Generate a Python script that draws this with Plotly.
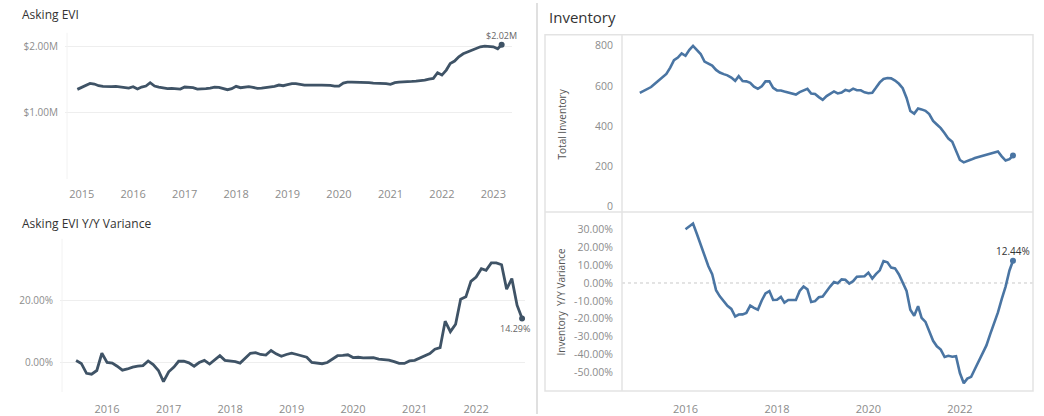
import plotly.graph_objects as go
import pandas as pd
from datetime import datetime

W, H = 1044, 416

# ---------------- data ----------------
evi_start = "2014-12-01"   # Asking EVI, $M, monthly
evi_m = [1.35, 1.38, 1.42, 1.44, 1.43, 1.405, 1.395, 1.39, 1.39, 1.395,
         1.39, 1.385, 1.37, 1.39, 1.355, 1.385, 1.40, 1.45, 1.40, 1.385,
         1.37, 1.36, 1.365, 1.365, 1.355, 1.385, 1.385, 1.375, 1.355, 1.355,
         1.36, 1.37, 1.385, 1.38, 1.365, 1.345, 1.36, 1.395, 1.375, 1.385,
         1.39, 1.38, 1.365, 1.37, 1.375, 1.385, 1.395, 1.415, 1.405, 1.42,
         1.435, 1.435, 1.42, 1.415, 1.415, 1.42, 1.415, 1.415, 1.415, 1.41,
         1.40, 1.40, 1.445, 1.46, 1.46, 1.46, 1.455, 1.45, 1.45, 1.445,
         1.445, 1.44, 1.435, 1.425, 1.45, 1.46, 1.46, 1.465, 1.47, 1.475,
         1.48, 1.49, 1.505, 1.515, 1.60, 1.565, 1.64, 1.74, 1.775, 1.84,
         1.885, 1.91, 1.935, 1.96, 1.99, 2.00, 2.00, 1.99, 1.96, 2.02]

evi_yoy_start = "2015-07-01"   # Asking EVI Y/Y variance, %
evi_yoy = [0.65, -0.3, -3.5, -3.8, -2.6, 3.0, 0.0, -0.2, -1.2, -2.5,
           -2.1, -1.5, -1.2, -1.0, 0.5, -0.7, -2.6, -6.2, -3.0, -1.5,
           0.4, 0.4, -0.1, -1.2, 0.0, 0.7, -0.5, 0.8, 2.2, 0.7,
           0.5, 0.3, -0.2, 1.3, 3.0, 3.2, 2.6, 2.4, 3.9, 2.8,
           2.0, 2.6, 3.0, 2.6, 2.2, 1.7, 0.0, -0.2, -0.4, 0.0,
           1.0, 2.2, 2.3, 2.5, 1.6, 1.7, 1.5, 1.6, 1.6, 1.1,
           0.9, 0.8, 0.3, -0.3, -0.3, 0.5, 0.7, 1.5, 2.3, 2.9,
           4.3, 4.8, 13.4, 10.0, 12.4, 20.5, 21.3, 26.3, 27.7, 30.4,
           29.9, 32.3, 32.3, 31.7, 23.8, 27.2, 18.6, 14.29]

inv_start = "2015-01-01"   # Total inventory
inventory = [565, 576, 584, 594, 610, 628, 644, 659, 690, 727,
             740, 761, 749, 779, 798, 780, 758, 720, 710, 700,
             679, 666, 658, 652, 641, 625, 648, 624, 622, 615,
             596, 585, 598, 622, 622, 590, 577, 577, 572, 567,
             565, 557, 569, 578, 585, 562, 559, 544, 530, 549,
             562, 572, 562, 567, 580, 574, 586, 578, 578, 568,
             563, 566, 590, 617, 634, 639, 637, 626, 610, 588,
             540, 475, 462, 488, 483, 476, 460, 426, 408, 390,
             365, 338, 322, 280, 232, 220, 225, 234, 242, 248,
             253, 258, 265, 271, 274, 250, 229, 236, 254]

inv_yoy_start = "2016-01-01"   # Inventory Y/Y variance, %
inv_yoy = [30.1, 32.0, 33.3, 27.5, 21.5, 15.0, 9.5, 5.0, -4.0, -7.5,
           -9.9, -12.8, -14.5, -18.8, -17.7, -17.6, -16.8, -12.7, -14.0, -15.0,
           -9.8, -5.8, -4.5, -9.5, -9.4, -7.8, -11.0, -9.5, -9.5, -9.5,
           -4.5, -2.0, -3.6, -10.7, -10.2, -8.0, -7.6, -4.5, -2.0, 0.5,
           -0.2, 2.0, 1.8, -0.3, 1.0, 3.5, 3.7, 3.8, 5.8, 2.5,
           5.0, 7.1, 12.3, 11.6, 8.6, 8.2, 4.8, 0.0, -4.5, -15.0,
           -18.4, -13.0, -19.5, -21.8, -27.5, -32.4, -35.5, -37.3, -41.5, -40.8,
           -41.3, -41.0, -50.5, -56.2, -53.6, -52.6, -48.2, -43.5, -39.5, -35.0,
           -28.5, -23.0, -16.5, -9.0, -2.0, 7.0, 12.44]

evi_years = [2015, 2016, 2017, 2018, 2019, 2020, 2021, 2022, 2023]
evi_yoy_years = [2016, 2017, 2018, 2019, 2020, 2021, 2022]
inv_years = [2016, 2018, 2020, 2022]
inv_ticks = [0, 200, 400, 600, 800]
inv_yoy_ticks = [30, 20, 10, 0, -10, -20, -30, -40, -50]

# ---------------- helpers ----------------
def months(start, n):
    return pd.date_range(start, periods=n, freq="MS")

def fy(y):
    yr = int(y)
    a, b = datetime(yr, 1, 1), datetime(yr + 1, 1, 1)
    return (a + (b - a) * (y - yr)).strftime("%Y-%m-%d %H:%M")

def dxp(a, b):
    return [a / W, b / W]

def dyp(top, bottom):
    return [1 - bottom / H, 1 - top / H]

FONT = "Open Sans"
TICKC = "#8c8c8c"
LEFTC = "#3f5366"
RIGHTC = "#4a75a3"
CLEAR = "rgba(0,0,0,0)"

x_evi = months(evi_start, len(evi_m))
x_evi_yoy = months(evi_yoy_start, len(evi_yoy))
x_inv = months(inv_start, len(inventory))
x_inv_yoy = months(inv_yoy_start, len(inv_yoy))
evi_vals = [v * 1e6 for v in evi_m]

fig = go.Figure()

def add_line(x, y, ax, color, width):
    fig.add_trace(go.Scatter(x=x, y=y, mode="lines", xaxis="x" + ax, yaxis="y" + ax,
                             line=dict(color=color, width=width), showlegend=False,
                             hoverinfo="skip"))
    fig.add_trace(go.Scatter(x=[x[-1]], y=[y[-1]], mode="markers", xaxis="x" + ax,
                             yaxis="y" + ax, marker=dict(color=color, size=6),
                             showlegend=False, hoverinfo="skip"))

add_line(x_evi, evi_vals, "", LEFTC, 2.8)
add_line(x_evi_yoy, evi_yoy, "2", LEFTC, 2.8)
add_line(x_inv, inventory, "3", RIGHTC, 2.6)
add_line(x_inv_yoy, inv_yoy, "4", RIGHTC, 2.6)

tickfont = dict(family=FONT, size=10, color=TICKC)
yearfont = dict(family=FONT, size=11, color=TICKC)

fig.update_layout(
    width=W, height=H, margin=dict(l=0, r=0, t=0, b=0),
    paper_bgcolor="white", plot_bgcolor="white",
    font=dict(family=FONT),
    xaxis=dict(domain=dxp(65, 512), type="date",
               range=[fy(2014.675), fy(2023.363)],
               tickvals=[datetime(y, 1, 1) for y in evi_years],
               ticktext=[str(y) for y in evi_years], tickfont=yearfont,
               showgrid=False, zeroline=False, showline=False,
               ticks="outside", ticklen=5, tickcolor=CLEAR, anchor="y"),
    yaxis=dict(domain=dyp(33, 180), range=[0, 2.2e6],
               tickvals=[1e6, 2e6], ticktext=["$1.00M", "$2.00M"], tickfont=tickfont,
               showgrid=True, gridcolor="#eeeeee", gridwidth=1, zeroline=False,
               showline=False, ticks="outside", ticklen=4, tickcolor=CLEAR,
               anchor="x"),
    xaxis2=dict(domain=dxp(60, 525), type="date",
                range=[fy(2015.234), fy(2022.795)],
                tickvals=[datetime(y, 1, 1) for y in evi_yoy_years],
                ticktext=[str(y) for y in evi_yoy_years], tickfont=yearfont,
                showgrid=False, zeroline=False, showline=False,
                ticks="outside", ticklen=7, tickcolor=CLEAR, anchor="y2"),
    yaxis2=dict(domain=dyp(240, 394), range=[-9.6, 40.1],
                tickvals=[0, 20], ticktext=["0.00%", "20.00%"], tickfont=tickfont,
                showgrid=True, gridcolor="#eeeeee", zeroline=False, showline=False,
                ticks="outside", ticklen=4, tickcolor=CLEAR, anchor="x2"),
    xaxis3=dict(domain=dxp(622, 1033), type="date",
                range=[fy(2014.61), fy(2023.60)], showticklabels=False,
                showgrid=False, zeroline=False, showline=False, ticks="",
                anchor="y3"),
    yaxis3=dict(domain=dyp(35, 213), range=[-26, 853],
                tickvals=inv_ticks, ticktext=[str(v) for v in inv_ticks],
                tickfont=dict(family=FONT, size=10.5, color=TICKC),
                showgrid=False, zeroline=False, showline=False,
                ticks="outside", ticklen=6, tickcolor=CLEAR, anchor="x3"),
    xaxis4=dict(domain=dxp(622, 1033), type="date",
                range=[fy(2014.61), fy(2023.60)],
                tickvals=[datetime(y, 1, 1) for y in inv_years],
                ticktext=[str(y) for y in inv_years], tickfont=yearfont,
                showgrid=False, zeroline=False, showline=False,
                ticks="outside", ticklen=8, tickcolor=CLEAR, anchor="y4"),
    yaxis4=dict(domain=dyp(213, 393), range=[-60.6, 39.8],
                tickvals=inv_yoy_ticks, ticktext=[f"{v:.2f}%" for v in inv_yoy_ticks],
                tickfont=dict(family=FONT, size=10.5, color=TICKC),
                showgrid=False, zeroline=False, showline=False,
                ticks="outside", ticklen=6, tickcolor=CLEAR, anchor="x4"),
)

shapes = [
    # separator between halves
    dict(type="line", xref="paper", yref="paper", x0=537 / W, x1=537 / W,
         y0=0, y1=1 - 3 / H, line=dict(color="#d6d6d6", width=1.5)),
    # faint left-panel axis lines
    dict(type="line", xref="paper", yref="paper", x0=67 / W, x1=67 / W,
         y0=1 - 180 / H, y1=1 - 33 / H, line=dict(color="#f2f2f2", width=1)),
    dict(type="line", xref="paper", yref="paper", x0=62 / W, x1=62 / W,
         y0=1 - 394 / H, y1=1 - 240 / H, line=dict(color="#f2f2f2", width=1)),
    # inventory box
    dict(type="rect", xref="paper", yref="paper", x0=545 / W, x1=1033 / W,
         y0=1 - 393 / H, y1=1 - 35 / H, line=dict(color="#e3e3e3", width=1.5)),
    dict(type="line", xref="paper", yref="paper", x0=545 / W, x1=1033 / W,
         y0=1 - 213 / H, y1=1 - 213 / H, line=dict(color="#e3e3e3", width=1.5)),
    dict(type="line", xref="paper", yref="paper", x0=622 / W, x1=622 / W,
         y0=1 - 393 / H, y1=1 - 35 / H, line=dict(color="#e3e3e3", width=1.5)),
    # zero lines
    dict(type="line", xref="x2 domain", yref="y2", x0=0, x1=1, y0=0, y1=0,
         line=dict(color="#9a9a9a", width=1, dash="dot"), layer="below"),
    dict(type="line", xref="x4 domain", yref="y4", x0=0, x1=1, y0=0, y1=0,
         line=dict(color="#c8c8c8", width=1, dash="dot"), layer="below"),
]
fig.update_layout(shapes=shapes)

ann = [
    dict(text="Asking EVI", x=20 / W, y=1 - 15 / H, xref="paper", yref="paper",
         xanchor="left", yanchor="middle", showarrow=False,
         font=dict(family=FONT, size=12, color="#333333")),
    dict(text="Asking EVI Y/Y Variance", x=20 / W, y=1 - 225 / H, xref="paper",
         yref="paper", xanchor="left", yanchor="middle", showarrow=False,
         font=dict(family=FONT, size=12, color="#333333")),
    dict(text="Inventory", x=547 / W, y=1 - 17 / H, xref="paper", yref="paper",
         xanchor="left", yanchor="middle", showarrow=False,
         font=dict(family=FONT, size=15, color="#333333")),
    dict(text="Total Inventory", x=562 / W, y=1 - 125 / H, xref="paper", yref="paper",
         xanchor="center", yanchor="middle", textangle=-90, showarrow=False,
         font=dict(family=FONT, size=10, color="#555555")),
    dict(text="Inventory  Y/Y Variance", x=561 / W, y=1 - 303 / H, xref="paper",
         yref="paper", xanchor="center", yanchor="middle", textangle=-90,
         showarrow=False, font=dict(family=FONT, size=10, color="#555555")),
    dict(text=f"${evi_m[-1]:.2f}M", x=x_evi[-1], y=evi_vals[-1], xref="x", yref="y",
         xanchor="center", yanchor="middle", yshift=9, showarrow=False,
         font=dict(family=FONT, size=9, color="#666666")),
    dict(text=f"{evi_yoy[-1]:.2f}%", x=x_evi_yoy[-1], y=evi_yoy[-1], xref="x2",
         yref="y2", xanchor="center", yanchor="middle", yshift=-10, xshift=-7,
         showarrow=False, font=dict(family=FONT, size=9, color="#666666")),
    dict(text=f"{inv_yoy[-1]:.2f}%", x=x_inv_yoy[-1], y=inv_yoy[-1], xref="x4",
         yref="y4", xanchor="center", yanchor="middle", yshift=10,
         showarrow=False, font=dict(family=FONT, size=10, color="#333333")),
]
fig.update_layout(annotations=ann)

fig.write_html("out.html",
               config={"displayModeBar": False, "staticPlot": True},
               post_script="document.body.style.margin='0px';"
                           "document.body.style.overflow='hidden';")
